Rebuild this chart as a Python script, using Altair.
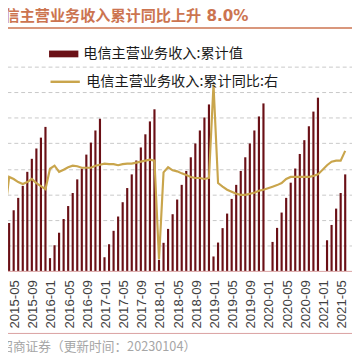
import altair as alt
import pandas as pd

# ---- data ----
months = [
    "2015-03", "2015-04", "2015-05", "2015-06", "2015-07", "2015-08", "2015-09", "2015-10", "2015-11", "2015-12",
    "2016-01", "2016-02", "2016-03", "2016-04", "2016-05", "2016-06", "2016-07", "2016-08", "2016-09", "2016-10", "2016-11", "2016-12",
    "2017-01", "2017-02", "2017-03", "2017-04", "2017-05", "2017-06", "2017-07", "2017-08", "2017-09", "2017-10", "2017-11", "2017-12",
    "2018-01", "2018-02", "2018-03", "2018-04", "2018-05", "2018-06", "2018-07", "2018-08", "2018-09", "2018-10", "2018-11", "2018-12",
    "2019-01", "2019-02", "2019-03", "2019-04", "2019-05", "2019-06", "2019-07", "2019-08", "2019-09", "2019-10", "2019-11", "2019-12",
    "2020-02", "2020-03", "2020-04", "2020-05", "2020-06", "2020-07", "2020-08", "2020-09", "2020-10", "2020-11", "2020-12",
    "2021-02", "2021-03", "2021-04", "2021-05", "2021-06",
]
revenue = [  # 电信主营业务收入:累计值 (亿元)
    2780, 3750, 4750, 5720, 6660, 7760, 8780, 9590, 10440, 11280,
    1000, 2010, 2990, 4060, 5080, 6100, 7170, 8010, 9110, 10050, 11000, 11920,
    1070, 2090, 3140, 4260, 5380, 6490, 7560, 8650, 9670, 10700, 11710, 12660,
    870, 2200, 3290, 4440, 5590, 6740, 7830, 8900, 9980, 11000, 12020, 13040,
    1130, 2220, 3350, 4490, 5640, 6740, 7830, 8900, 9980, 11000, 12100, 13120,
    2270, 3370, 4570, 5720, 6910, 8020, 9160, 10240, 11330, 12480, 13570,
    2400, 3600, 4880, 6100, 7560,
]
yoy = [  # 电信主营业务收入:累计同比 (%)
    -4.3, 3.4, 3.0, 2.4, 2.0, 2.4, 3.0, 2.2, 1.6, 1.0,
    5.0, 5.6, 4.4, 4.8, 5.3, 5.6, 5.5, 5.2, 5.2, 5.2, 5.6, 5.8,
    6.0, 5.9, 5.9, 5.7, 5.9, 6.0, 6.0, 6.2, 6.4, 6.6, 6.8, 6.6,
    -12.7, 4.3, 5.3, 4.7, 4.5, 4.1, 3.8, 3.4, 3.2, 3.2, 3.0, 3.2,
    21.5, 2.2, 1.5, 0.9, 0.5, 0.1, -0.1, -0.1, 0.1, 0.3, 0.7, 0.9,
    1.5, 1.8, 2.2, 3.0, 3.4, 3.4, 3.4, 3.4, 3.4, 3.6, 3.9,
    5.7, 6.4, 6.6, 6.6, 8.5,
]
tick_labels = [
    "2015-05", "2015-09", "2016-01", "2016-05", "2016-09", "2017-01", "2017-05", "2017-09",
    "2018-01", "2018-05", "2018-09", "2019-01", "2019-05", "2019-09", "2020-01", "2020-05",
    "2020-09", "2021-01", "2021-05",
]
bar_name = "电信主营业务收入:累计值"
line_name = "电信主营业务收入:累计同比:右"
title_text = "电信主营业务收入累计同比上升 8.0%"
source_text = "资料来源：Wind，招商证券（更新时间：20230104）"

# ---- table ----
def month_index(s):
    y, m = s.split("-")
    return (int(y) - 2015) * 12 + int(m) - 1

df = pd.DataFrame({"month": months, "revenue": revenue, "yoy": yoy})
df["idx"] = df["month"].map(month_index)
df["bar_series"] = bar_name
df["line_series"] = line_name
tick_vals = [month_index(t) for t in tick_labels]
label_expr = "[" + ",".join("'%s'" % t for t in tick_labels) + "][round((datum.value-%d)/4)]" % tick_vals[0]

bar_color = "#6A1016"
line_color = "#C9A54C"
accent = "#CC7450"
cjk = "Noto Sans CJK SC"

x_enc = alt.X(
    "idx:Q",
    scale=alt.Scale(domain=[2.105, 77.42], nice=False, zero=False),
    axis=alt.Axis(
        values=tick_vals, labelExpr=label_expr, labelAngle=270, labelFlush=False,
        labelOverlap=False, labelBound=False, labelPadding=9, labelOffset=1,
        labelFont="Liberation Sans", labelFontSize=13.5, labelColor="#404040",
        ticks=False, grid=False, domain=True, domainColor="#D9A0A0", domainWidth=1,
        title=source_text, titleX=200, titleY=77, titleAlign="right", titleAngle=0,
        titleBaseline="middle", titleColor="#A6A6A6", titleFontSize=13,
        titleFontWeight="normal", titleFont=cjk,
    ),
)

bars = alt.Chart(df).mark_bar(width=2.2).encode(
    x=x_enc,
    y=alt.Y(
        "revenue:Q",
        scale=alt.Scale(domain=[0, 16000], nice=False),
        axis=alt.Axis(
            values=list(range(2000, 16001, 2000)), labels=False, ticks=False, domain=False,
            grid=True, gridDash=[4, 3], gridColor="#C8C8C8", gridWidth=1, title=None,
        ),
    ),
    fill=alt.Fill(
        "bar_series:N",
        scale=alt.Scale(range=[bar_color]),
        legend=alt.Legend(
            orient="none", legendX=50, legendY=-28, title=None,
            symbolType="M-1,-0.23H1V0.23H-1Z", symbolSize=900, symbolStrokeWidth=0,
            labelFont=cjk, labelFontSize=14.5, labelColor="#1a1a1a",
            labelOffset=5, padding=0, labelLimit=400,
        ),
    ),
)

line = alt.Chart(df).mark_line(strokeWidth=2.2).encode(
    x=x_enc,
    y=alt.Y("yoy:Q", scale=alt.Scale(domain=[-15, 25], nice=False), axis=None),
    stroke=alt.Stroke(
        "line_series:N",
        scale=alt.Scale(range=[line_color]),
        legend=alt.Legend(
            orient="none", legendX=50, legendY=-1, title=None,
            symbolType="stroke", symbolSize=900, symbolStrokeWidth=2.5,
            labelFont=cjk, labelFontSize=14.5, labelColor="#1a1a1a",
            labelOffset=5, padding=0, labelLimit=400,
        ),
    ),
)

deco = alt.Data(values=[{"k": 1}])
title_rule = alt.Chart(deco).mark_rule(color=accent, strokeWidth=1.5).encode(
    x=alt.value(-10), x2=alt.value(370), y=alt.value(-39.5)
)
foot_rule = alt.Chart(deco).mark_rule(color="#D9A0A0", strokeWidth=1).encode(
    x=alt.value(-10), x2=alt.value(370), y=alt.value(273)
)

chart = (
    alt.layer(bars, line, title_rule, foot_rule)
    .resolve_scale(y="independent")
    .properties(
        width=360, height=209, autosize="none",
        padding={"left": -8, "top": 56, "right": 0, "bottom": 80},
        title=alt.TitleParams(
            text=title_text, anchor="end", frame="group", dx=-106, dy=4, offset=0,
            fontSize=15.5, font="DejaVu Sans, " + cjk, fontWeight="bold", color=accent,
            baseline="middle",
        ),
    )
    .configure_view(stroke=None)
)

chart.save("out.html", embed_options={"renderer": "svg", "actions": False})
